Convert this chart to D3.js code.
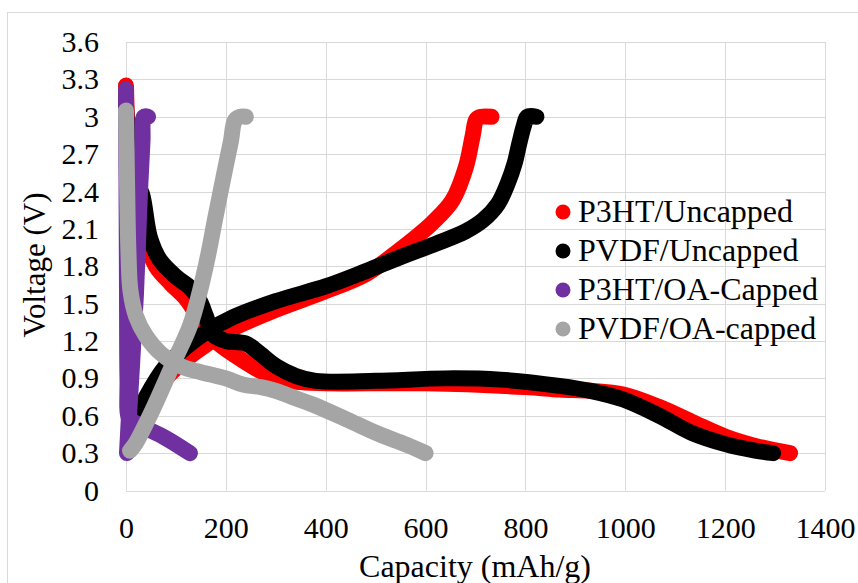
<!DOCTYPE html>
<html>
<head>
<meta charset="utf-8">
<script src="https://cdn.jsdelivr.net/npm/d3@7"></script>
</head>
<body style="margin:0;background:#fff">
<div id="vis"></div>
<script>
// data: [capacity mAh/g, voltage V]
const p3htUncDischarge = [[0,3.25],[3,2.9],[12,2.55],[22,2.3],[35,2.05],[60,1.8],[90,1.66],[120,1.54],[150,1.36],[180,1.2],[220,1.08],[260,0.98],[300,0.9],[350,0.87],[400,0.86],[600,0.86],[800,0.83],[868,0.81],[930,0.8],[996,0.77],[1068,0.67],[1134,0.55],[1202,0.43],[1268,0.35],[1330,0.3]];
const p3htUncCharge = [[8,0.4],[40,0.65],[80,0.9],[120,1.05],[160,1.17],[214,1.3],[300,1.45],[400,1.6],[482,1.74],[548,1.93],[614,2.15],[654,2.33],[681,2.6],[694,2.84],[702,2.98],[712,3.0],[732,3.0]];
const pvdfUncDischarge = [[0,3.1],[5,2.8],[18,2.5],[32,2.38],[48,2.03],[68,1.85],[102,1.71],[128,1.63],[148,1.52],[160,1.4],[175,1.25],[200,1.2],[240,1.18],[268,1.1],[300,1.0],[340,0.92],[380,0.88],[500,0.88],[640,0.9],[750,0.89],[868,0.84],[930,0.8],[996,0.73],[1068,0.6],[1134,0.46],[1202,0.37],[1260,0.32],[1296,0.3]];
const pvdfUncCharge = [[10,0.5],[40,0.75],[80,1.0],[120,1.15],[160,1.27],[214,1.39],[300,1.52],[401,1.64],[480,1.76],[548,1.87],[620,1.98],[680,2.08],[715,2.17],[745,2.3],[765,2.47],[778,2.62],[788,2.79],[797,2.93],[804,3.0],[822,3.0]];
const p3htOaDischarge = [[0,3.22],[1,2.5],[2,1.6],[3,0.9],[6,0.58],[15,0.55],[40,0.5],[80,0.42],[128,0.3]];
const p3htOaCharge = [[2,0.3],[6,0.6],[12,1.0],[20,1.58],[28,2.4],[33,2.8],[36,3.0],[44,3.0]];
const pvdfOaDischarge = [[0,3.05],[2,2.5],[5,1.9],[9,1.6],[20,1.4],[40,1.24],[70,1.1],[114,0.99],[150,0.95],[200,0.9],[234,0.85],[270,0.83],[300,0.8],[340,0.74],[374,0.69],[442,0.57],[508,0.45],[560,0.37],[600,0.3]];
const pvdfOaCharge = [[8,0.32],[18,0.37],[50,0.62],[98,1.05],[128,1.32],[148,1.6],[165,1.9],[178,2.17],[198,2.57],[210,2.8],[218,2.97],[228,3.0],[240,3.0]];

const seriesNames = ['P3HT/Uncapped', 'PVDF/Uncapped', 'P3HT/OA-Capped', 'PVDF/OA-capped'];
const seriesColors = ['#ff0000', '#000000', '#7030a0', '#a5a5a5'];
const seriesData = [
  [p3htUncDischarge, p3htUncCharge],
  [pvdfUncDischarge, pvdfUncCharge],
  [p3htOaDischarge, p3htOaCharge],
  [pvdfOaDischarge, pvdfOaCharge]
];

const xTicks = [0, 200, 400, 600, 800, 1000, 1200, 1400];
const yTicks = [0, 0.3, 0.6, 0.9, 1.2, 1.5, 1.8, 2.1, 2.4, 2.7, 3, 3.3, 3.6];

const FONT = 'Liberation Serif';

// layout
const W = 858, H = 583;
const margin = { top: 42, right: 33, bottom: 92.5, left: 126 };
const width = W - margin.left - margin.right;
const height = H - margin.top - margin.bottom;

const root = d3.select('#vis')
    .append('svg')
    .attr('width', W)
    .attr('height', H)
    .attr('font-family', FONT);

// chart border
root.append('rect')
    .attr('x', 7.5).attr('y', 12.5)
    .attr('width', 860).attr('height', 590)
    .attr('fill', 'none')
    .attr('stroke', '#d9d9d9');

const svg = root.append('g')
    .attr('transform', `translate(${margin.left},${margin.top})`);

// scales
const xScale = d3.scaleLinear().domain([0, 1400]).range([0, width]);
const yScale = d3.scaleLinear().domain([0, 3.6]).range([height, 0]);

// grid
svg.append('g')
    .selectAll('line')
    .data(yTicks)
    .join('line')
    .attr('x1', 0).attr('x2', width)
    .attr('y1', d => Math.round(yScale(d)) + 0.5)
    .attr('y2', d => Math.round(yScale(d)) + 0.5)
    .attr('stroke', '#d9d9d9');

svg.append('g')
    .selectAll('line')
    .data(xTicks)
    .join('line')
    .attr('y1', 0).attr('y2', height)
    .attr('x1', d => Math.round(xScale(d)) + 0.5)
    .attr('x2', d => Math.round(xScale(d)) + 0.5)
    .attr('stroke', '#d9d9d9');

// axes (labels only)
const xAxis = d3.axisBottom(xScale).tickValues(xTicks).tickSize(0).tickPadding(26)
    .tickFormat(d => String(d));
svg.append('g')
    .attr('transform', `translate(0,${height})`)
    .call(xAxis)
    .attr('font-family', FONT)
    .attr('font-size', 30)
    .call(g => g.select('.domain').remove())
    .selectAll('text').attr('fill', '#000');

const yAxis = d3.axisLeft(yScale).tickValues(yTicks).tickSize(0).tickPadding(27)
    .tickFormat(d => String(+d.toFixed(1)));
svg.append('g')
    .call(yAxis)
    .attr('font-family', FONT)
    .attr('font-size', 30)
    .call(g => g.select('.domain').remove())
    .selectAll('text').attr('fill', '#000');

// series (dense markers drawn as thick round strokes)
const line = d3.line()
    .x(d => xScale(d[0]))
    .y(d => yScale(d[1]))
    .curve(d3.curveCatmullRom.alpha(0.5));

seriesData.forEach((parts, i) => {
    svg.append('g')
        .selectAll('path')
        .data(parts)
        .join('path')
        .attr('d', line)
        .attr('fill', 'none')
        .attr('stroke', seriesColors[i])
        .attr('stroke-width', 16)
        .attr('stroke-linecap', 'round')
        .attr('stroke-linejoin', 'round');
});

// axis titles
root.append('text')
    .attr('x', 475).attr('y', 577)
    .attr('text-anchor', 'middle')
    .attr('font-family', FONT)
    .attr('font-size', 32)
    .text('Capacity (mAh/g)');

root.append('text')
    .attr('transform', 'translate(45,265) rotate(-90)')
    .attr('text-anchor', 'middle')
    .attr('font-family', FONT)
    .attr('font-size', 31)
    .text('Voltage (V)');

// legend
const legend = root.append('g')
    .attr('transform', 'translate(563,212)');

const items = legend.selectAll('g')
    .data(seriesNames)
    .join('g')
    .attr('transform', (d, i) => `translate(0,${i * 39})`);

items.append('circle')
    .attr('r', 7.5)
    .attr('fill', (d, i) => seriesColors[i]);

items.append('text')
    .attr('x', 15)
    .attr('y', 10)
    .attr('font-family', FONT)
    .attr('font-size', 32)
    .text(d => d);
</script>
</body>
</html>
